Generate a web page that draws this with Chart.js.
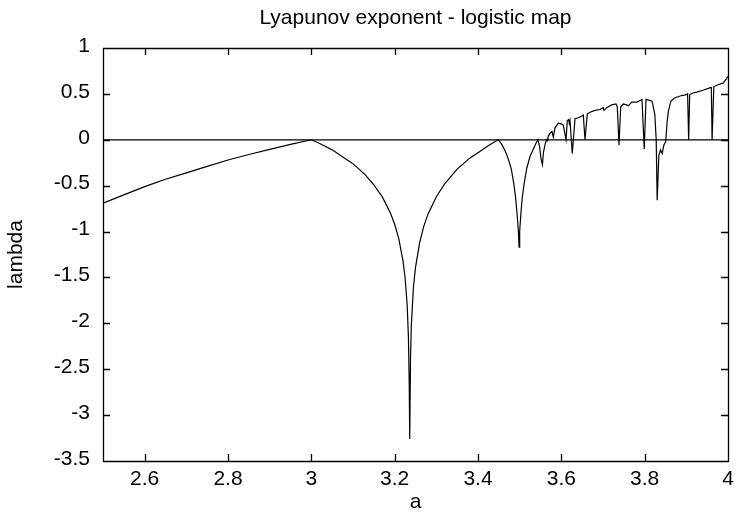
<!DOCTYPE html>
<html>
<head>
<meta charset="utf-8">
<script src="https://cdn.jsdelivr.net/npm/chart.js@4.4.0/dist/chart.umd.min.js"></script>
<style>
	html, body { margin: 0; padding: 0; background: #fff; }
	#wrap { width: 738px; height: 520px; }
</style>
</head>
<body>
<div id="wrap"><canvas id="myChart" width="738" height="520"></canvas></div>
<script>
// values
var aValues = [
	2.5, 2.55, 2.6, 2.65, 2.7, 2.75, 2.8, 2.85, 2.9, 2.95, 3.0,
	3.02, 3.05, 3.08, 3.1, 3.13, 3.15, 3.17, 3.19, 3.2, 3.21, 3.22, 3.225, 3.23, 3.233, 3.235, 3.2361,
	3.238, 3.24, 3.245, 3.25, 3.26, 3.27, 3.28, 3.3, 3.32, 3.35, 3.38, 3.4, 3.42, 3.435, 3.449,
	3.457, 3.465, 3.472, 3.48, 3.486, 3.49, 3.494, 3.497, 3.4986, 3.5, 3.503, 3.506, 3.51, 3.517, 3.525, 3.533, 3.54, 3.5441,
	3.548, 3.551, 3.5546, 3.557, 3.561, 3.5644, 3.5665, 3.5687, 3.5745, 3.5776, 3.5807, 3.5848, 3.5927,
	3.6009, 3.6047, 3.6112, 3.6143, 3.6177, 3.6191, 3.6208, 3.6263, 3.6328, 3.6407, 3.6489, 3.6527, 3.6568,
	3.6623, 3.6688, 3.6808, 3.6928, 3.7007, 3.7024, 3.7089, 3.7209, 3.7312, 3.7343, 3.7384, 3.7425, 3.7487,
	3.7569, 3.761, 3.769, 3.7814, 3.7936, 3.799, 3.8032, 3.8178, 3.8243, 3.8277, 3.83, 3.834, 3.838, 3.842,
	3.846, 3.8505, 3.854, 3.857, 3.8627, 3.87, 3.875, 3.887, 3.898, 3.903, 3.9056, 3.908, 3.9155, 3.925,
	3.94, 3.956, 3.96, 3.9618, 3.966, 3.9765, 3.9887, 3.9969, 4.0
];
var lambdaValues = [
	-0.69, -0.6, -0.51, -0.43, -0.36, -0.29, -0.22, -0.16, -0.105, -0.05, 0,
	-0.04, -0.11, -0.2, -0.26, -0.385, -0.49, -0.62, -0.8, -0.92, -1.08, -1.32, -1.5, -1.8, -2.15, -2.67, -3.26,
	-2.38, -2.02, -1.61, -1.39, -1.12, -0.94, -0.81, -0.62, -0.48, -0.32, -0.2, -0.14, -0.08, -0.035, 0,
	-0.05, -0.12, -0.2, -0.32, -0.48, -0.62, -0.82, -1.0, -1.17, -1.0, -0.8, -0.64, -0.5, -0.31, -0.18, -0.1, -0.03, 0,
	-0.08, -0.2, -0.27, -0.14, -0.05, 0, -0.01, 0.04, 0.08, 0.09, 0.03, 0.13, 0.18,
	0.17, 0.16, 0, 0.21, 0.22, 0.18, 0.21, -0.15, 0.23, 0.24, 0.26, 0.27, 0,
	0.28, 0.3, 0.32, 0.33, 0.35, 0.32, 0.35, 0.38, 0.39, 0.36, -0.06, 0.36, 0.39,
	0.38, 0.37, 0.41, 0.41, 0.44, -0.1, 0.44, 0.42, 0.28, 0, -0.66, -0.17, -0.11, -0.15,
	-0.06, -0.02, 0.2, 0.31, 0.42, 0.45, 0.46, 0.48, 0.49, 0.5, 0, 0.49, 0.51, 0.52,
	0.54, 0.565, 0.57, 0, 0.58, 0.6, 0.62, 0.67, 0.69
];
var zeroA = [2.5, 4];
var zeroLambda = [0, 0];
var xTicks = [2.6, 2.8, 3, 3.2, 3.4, 3.6, 3.8, 4];
var yTicks = [1, 0.5, 0, -0.5, -1, -1.5, -2, -2.5, -3, -3.5];

Chart.defaults.font.family = "'Liberation Sans', Arial, Helvetica, sans-serif";
Chart.defaults.font.size = 21;
Chart.defaults.color = '#000';

var curve = aValues.map(function (a, i) { return { x: a, y: lambdaValues[i] }; });
var zero = zeroA.map(function (a, i) { return { x: a, y: zeroLambda[i] }; });

// box round the plot with inward ticks on all four sides
function drawFrame(chart) {
	var g = chart.ctx, ca = chart.chartArea;
	var xs = chart.scales.x, ys = chart.scales.y, len = 7;
	g.save();
	g.strokeStyle = '#000';
	g.lineWidth = 1.3;
	g.beginPath();
	xTicks.forEach(function (v) {
		var px = Math.round(xs.getPixelForValue(v)) + 0.5;
		g.moveTo(px, ca.bottom); g.lineTo(px, ca.bottom - len);
		g.moveTo(px, ca.top); g.lineTo(px, ca.top + len);
	});
	yTicks.forEach(function (v) {
		var py = Math.round(ys.getPixelForValue(v)) + 0.5;
		g.moveTo(ca.left, py); g.lineTo(ca.left + len, py);
		g.moveTo(ca.right, py); g.lineTo(ca.right - len, py);
	});
	g.rect(Math.round(ca.left) + 0.5, Math.round(ca.top) + 0.5,
		Math.round(ca.right - ca.left), Math.round(ca.bottom - ca.top));
	g.stroke();
	g.restore();
}

var framePlugin = {
	id: 'plotFrame',
	afterLayout: function (chart) {
		// centre the title over the plot, like gnuplot does
		var t = chart.titleBlock;
		if (t) {
			t.left = chart.chartArea.left;
			t.right = chart.chartArea.right;
			t.width = t.right - t.left;
		}
	},
	afterDatasetsDraw: function (chart) {
		drawFrame(chart);
	}
};

var myChart = new Chart(document.getElementById("myChart").getContext("2d"), {
	type: 'line',
	data: {
		datasets: [{
			label: 'lambda',
			data: curve,
			borderColor: '#000',
			borderWidth: 1.2,
			pointRadius: 0,
			tension: 0,
			fill: false
		}, {
			label: 'zero',
			data: zero,
			borderColor: '#000',
			borderWidth: 1.2,
			pointRadius: 0,
			fill: false
		}]
	},
	options: {
		responsive: false,
		animation: false,
		layout: { padding: { left: 0, right: 10, top: 0, bottom: 0 } },
		plugins: {
			legend: { display: false },
			tooltip: { enabled: false },
			title: {
				display: true,
				text: 'Lyapunov exponent - logistic map',
				color: '#000',
				font: { size: 21, weight: 'normal' },
				padding: { top: 6, bottom: 16.8 }
			}
		},
		scales: {
			x: {
				type: 'linear',
				min: 2.5,
				max: 4,
				afterBuildTicks: function (s) { s.ticks = xTicks.map(function (v) { return { value: v }; }); },
				afterFit: function (s) { s.height = 59; s.paddingLeft = 0; s.paddingRight = 0; },
				grid: { display: false, drawTicks: false },
				border: { display: false },
				ticks: {
					padding: 6,
					maxRotation: 0,
					autoSkip: false,
					callback: function (v) { return String(v); }
				},
				title: { display: true, text: 'a', padding: { top: 0, bottom: 5 } }
			},
			y: {
				min: -3.5,
				max: 1,
				afterBuildTicks: function (s) { s.ticks = yTicks.map(function (v) { return { value: v }; }); },
				afterFit: function (s) { s.width = 103; s.paddingTop = 0; s.paddingBottom = 0; },
				grid: { display: false, drawTicks: false },
				border: { display: false },
				ticks: {
					padding: 13,
					labelOffset: -2,
					autoSkip: false,
					callback: function (v) { return String(v); }
				},
				title: { display: true, text: 'lambda', padding: { top: 4, bottom: 0 } }
			}
		}
	},
	plugins: [framePlugin]
});
</script>
</body>
</html>
